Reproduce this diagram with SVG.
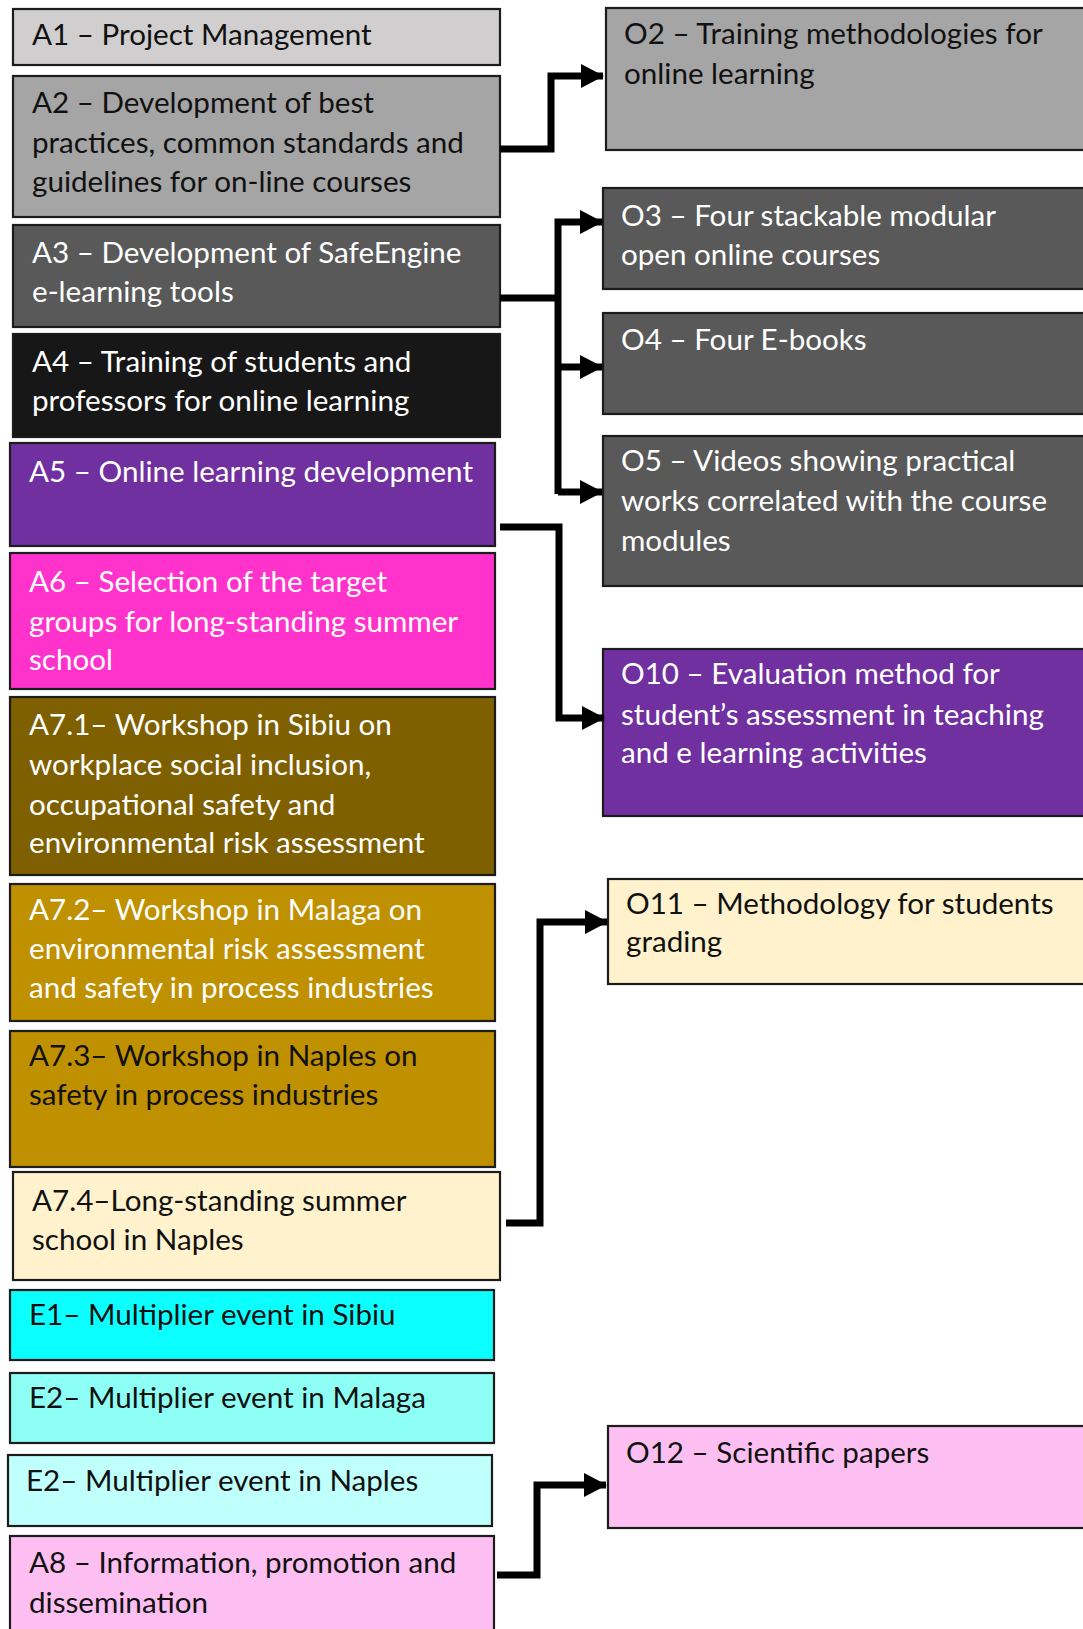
<svg xmlns="http://www.w3.org/2000/svg" width="1083" height="1629" viewBox="0 0 1083 1629">
  <style>
    .box { stroke: #1c1c1c; stroke-width: 2.2; }
    .t { font-family: Lato, "Open Sans", "Liberation Sans", sans-serif; font-size: 29.6px; }
    .dk { fill: #111111; }
    .lt { fill: #ffffff; }
    .wire { fill: none; stroke: #000000; stroke-width: 7; stroke-linejoin: miter; stroke-linecap: butt; }
  </style>
  <defs>
    <marker id="arrow" markerUnits="userSpaceOnUse" markerWidth="24" markerHeight="24" refX="22" refY="12" orient="auto">
      <path d="M0,0 L23,12 L0,24 Z" fill="#000000"/>
    </marker>
  </defs>
  <rect width="1083" height="1629" fill="#ffffff"/>

  <!-- activities (left column) -->
  <g id="A1">
    <rect class="box" x="13" y="9" width="487" height="56" fill="#d0cece"/>
    <text class="t dk" x="32" y="45">A1 – Project Management</text>
  </g>
  <g id="A2">
    <rect class="box" x="13" y="76" width="487" height="141" fill="#a5a5a5"/>
    <text class="t dk" x="32" y="113">A2 – Development of best</text>
    <text class="t dk" x="32" y="153">practices, common standards and</text>
    <text class="t dk" x="32" y="192">guidelines for on-line courses</text>
  </g>
  <g id="A3">
    <rect class="box" x="13" y="225" width="487" height="102" fill="#595959"/>
    <text class="t lt" x="32" y="263">A3 – Development of SafeEngine</text>
    <text class="t lt" x="32" y="302">e-learning tools</text>
  </g>
  <g id="A4">
    <rect class="box" x="13" y="334" width="487" height="103" fill="#171717"/>
    <text class="t lt" x="32" y="372">A4 – Training of students and</text>
    <text class="t lt" x="32" y="411">professors for online learning</text>
  </g>
  <g id="A5">
    <rect class="box" x="10" y="443" width="485" height="103" fill="#7030a0"/>
    <text class="t lt" x="29" y="482">A5 – Online learning development</text>
  </g>
  <g id="A6">
    <rect class="box" x="10" y="553" width="485" height="136" fill="#ff33cc"/>
    <text class="t lt" x="29" y="592">A6 – Selection of the target</text>
    <text class="t lt" x="29" y="632">groups for long-standing summer</text>
    <text class="t lt" x="29" y="670">school</text>
  </g>
  <g id="A7-1">
    <rect class="box" x="10" y="697" width="485" height="178" fill="#7f6000"/>
    <text class="t lt" x="29" y="735">A7.1– Workshop in Sibiu on</text>
    <text class="t lt" x="29" y="775">workplace social inclusion,</text>
    <text class="t lt" x="29" y="815">occupational safety and</text>
    <text class="t lt" x="29" y="853">environmental risk assessment</text>
  </g>
  <g id="A7-2">
    <rect class="box" x="10" y="884" width="485" height="137" fill="#bf9000"/>
    <text class="t lt" x="29" y="920">A7.2– Workshop in Malaga on</text>
    <text class="t lt" x="29" y="959">environmental risk assessment</text>
    <text class="t lt" x="29" y="998">and safety in process industries</text>
  </g>
  <g id="A7-3">
    <rect class="box" x="10" y="1031" width="485" height="136" fill="#bf9000"/>
    <text class="t dk" x="29" y="1066">A7.3– Workshop in Naples on</text>
    <text class="t dk" x="29" y="1105">safety in process industries</text>
  </g>
  <g id="A7-4">
    <rect class="box" x="13" y="1172" width="487" height="108" fill="#fff2cc"/>
    <text class="t dk" x="32" y="1211">A7.4–Long-standing summer</text>
    <text class="t dk" x="32" y="1250">school in Naples</text>
  </g>
  <g id="E1">
    <rect class="box" x="10" y="1290" width="484" height="70" fill="#0cffff"/>
    <text class="t dk" x="29" y="1325">E1– Multiplier event in Sibiu</text>
  </g>
  <g id="E2-Malaga">
    <rect class="box" x="10" y="1373" width="484" height="70" fill="#8dfff4"/>
    <text class="t dk" x="29" y="1408">E2– Multiplier event in Malaga</text>
  </g>
  <g id="E2-Naples">
    <rect class="box" x="8" y="1455" width="484" height="71" fill="#bffffc"/>
    <text class="t dk" x="26" y="1491">E2– Multiplier event in Naples</text>
  </g>
  <g id="A8">
    <rect class="box" x="10" y="1536" width="484" height="110" fill="#fdbff1"/>
    <text class="t dk" x="29" y="1573">A8 – Information, promotion and</text>
    <text class="t dk" x="29" y="1613">dissemination</text>
  </g>

  <!-- outputs (right column) -->
  <g id="O2">
    <rect class="box" x="606" y="8" width="500" height="142" fill="#a5a5a5"/>
    <text class="t dk" x="624" y="44">O2 – Training methodologies for</text>
    <text class="t dk" x="624" y="84">online learning</text>
  </g>
  <g id="O3">
    <rect class="box" x="603" y="188" width="500" height="101" fill="#595959"/>
    <text class="t lt" x="621" y="226">O3 – Four stackable modular</text>
    <text class="t lt" x="621" y="265">open online courses</text>
  </g>
  <g id="O4">
    <rect class="box" x="603" y="313" width="500" height="101" fill="#595959"/>
    <text class="t lt" x="621" y="350">O4 – Four E-books</text>
  </g>
  <g id="O5">
    <rect class="box" x="603" y="436" width="500" height="150" fill="#595959"/>
    <text class="t lt" x="621" y="471">O5 – Videos showing practical</text>
    <text class="t lt" x="621" y="511">works correlated with the course</text>
    <text class="t lt" x="621" y="551">modules</text>
  </g>
  <g id="O10">
    <rect class="box" x="603" y="649" width="500" height="167" fill="#7030a0"/>
    <text class="t lt" x="621" y="684">O10 – Evaluation method for</text>
    <text class="t lt" x="621" y="725">student’s assessment in teaching</text>
    <text class="t lt" x="621" y="763">and e learning activities</text>
  </g>
  <g id="O11">
    <rect class="box" x="608" y="879" width="500" height="105" fill="#fff2cc"/>
    <text class="t dk" x="626" y="914">O11 – Methodology for students</text>
    <text class="t dk" x="626" y="952">grading</text>
  </g>
  <g id="O12">
    <rect class="box" x="608" y="1426" width="500" height="102" fill="#fdbff1"/>
    <text class="t dk" x="626" y="1463">O12 – Scientific papers</text>
  </g>

  <!-- connectors -->
  <g id="connectors">
    <path class="wire" d="M500,149 H551 V76 H603" marker-end="url(#arrow)"/>
    <path class="wire" d="M500,298 H558"/>
    <path class="wire" d="M558,494 V222 H602" marker-end="url(#arrow)"/>
    <path class="wire" d="M558,367 H602" marker-end="url(#arrow)"/>
    <path class="wire" d="M558,492 H602" marker-end="url(#arrow)"/>
    <path class="wire" d="M500,527 H559 V718 H604" marker-end="url(#arrow)"/>
    <path class="wire" d="M506,1223 H540 V922 H607" marker-end="url(#arrow)"/>
    <path class="wire" d="M497,1575 H537 V1485 H606" marker-end="url(#arrow)"/>
  </g>
</svg>
